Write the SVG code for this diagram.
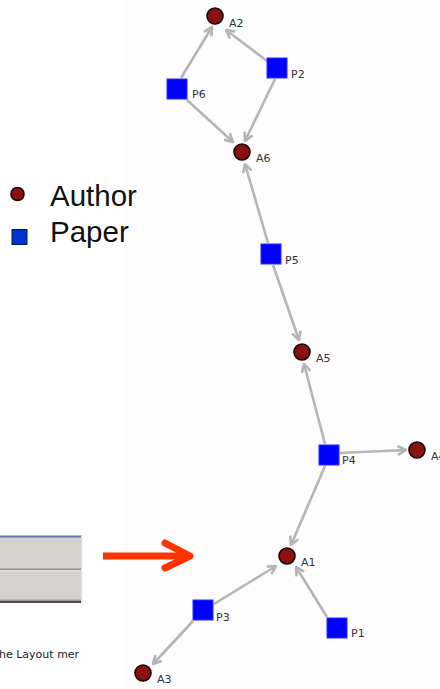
<svg xmlns="http://www.w3.org/2000/svg" width="440" height="689" viewBox="0 0 440 689">
<style>
.edge{stroke:#b5b5b5;stroke-width:2.6;fill:none;marker-end:url(#ah)}
.author{fill:#8b1111;stroke:#1a0000;stroke-width:1.6}
.paper{fill:#0000ff;stroke:#2a2aff;stroke-width:1}
.lbl{font-family:"DejaVu Sans",sans-serif;font-size:11px;fill:#333}
.leg{font-family:"Liberation Sans",Arial,sans-serif;font-size:29.5px;fill:#111}
</style>
<defs>
<marker id="ah" viewBox="0 0 10 10" refX="9" refY="5" markerWidth="11" markerHeight="11" markerUnits="userSpaceOnUse" orient="auto">
<path d="M1.5,1 L9,5 L1.5,9" fill="none" stroke="#b5b5b5" stroke-width="2.4" stroke-linejoin="miter"/>
</marker>
</defs>
<rect x="0" y="0" width="440" height="689" fill="#ffffff"/>
<rect x="122" y="0" width="318" height="689" fill="#fdfdfd"/>

<g id="legend">
<circle cx="17.5" cy="194" r="6.5" class="author"/>
<text x="50" y="206" class="leg">Author</text>
<rect x="12" y="229.5" width="15" height="15" fill="#0033cc" stroke="#001a66" stroke-width="1"/>
<text x="50" y="242" class="leg">Paper</text>
</g>

<g id="screenshot">
<rect x="-1" y="536" width="83" height="67" fill="#d5d2cc"/>
<rect x="-1" y="535.5" width="83" height="2" fill="#5b7cb6"/>
<rect x="-1" y="568.5" width="83" height="1.5" fill="#8c8c8c"/>
<rect x="-1" y="570" width="83" height="1" fill="#ebe9e5"/>
<rect x="-1" y="599.5" width="83" height="1.5" fill="#9a9a9a"/>
<rect x="-1" y="601" width="83" height="2" fill="#4a4a4a"/>
<rect x="81" y="536" width="1.5" height="67" fill="#e6e4e0"/>
<text x="-1" y="658" font-family="'DejaVu Sans',sans-serif" font-size="11px" fill="#222">he Layout mer</text>
</g>

<g id="red-arrow" stroke="#ff3300" stroke-width="7" fill="none" stroke-linecap="round" stroke-linejoin="round">
<line x1="103" y1="556" x2="188" y2="556" stroke-linecap="butt"/>
<polyline points="165,543 190,556 165,568"/>
</g>

<g id="connectors">
<line class="edge" x1="181" y1="78" x2="212" y2="27"/>
<line class="edge" x1="267" y1="61" x2="226" y2="30"/>
<line class="edge" x1="187" y1="100" x2="233" y2="142"/>
<line class="edge" x1="275" y1="79" x2="245" y2="141"/>
<line class="edge" x1="268" y1="243" x2="245" y2="164"/>
<line class="edge" x1="273" y1="265" x2="299" y2="340"/>
<line class="edge" x1="325" y1="444" x2="304" y2="364"/>
<line class="edge" x1="340" y1="453" x2="406" y2="450"/>
<line class="edge" x1="325" y1="466" x2="291" y2="545"/>
<line class="edge" x1="214" y1="604" x2="276" y2="566"/>
<line class="edge" x1="327" y1="617" x2="296" y2="567"/>
<line class="edge" x1="193" y1="621" x2="153" y2="664"/>
</g>

<g id="A2"><circle cx="215" cy="16" r="8" class="author"/><text x="229" y="27" class="lbl">A2</text></g>
<g id="P2"><rect x="267" y="58" width="20" height="20" class="paper"/><text x="291" y="78" class="lbl">P2</text></g>
<g id="P6"><rect x="167" y="79" width="20" height="20" class="paper"/><text x="192" y="98" class="lbl">P6</text></g>
<g id="A6"><circle cx="242" cy="152" r="8" class="author"/><text x="256" y="162" class="lbl">A6</text></g>
<g id="P5"><rect x="261" y="244" width="20" height="20" class="paper"/><text x="285" y="264" class="lbl">P5</text></g>
<g id="A5"><circle cx="302" cy="352" r="8" class="author"/><text x="316" y="362" class="lbl">A5</text></g>
<g id="P4"><rect x="319" y="445" width="20" height="20" class="paper"/><text x="342" y="464" class="lbl">P4</text></g>
<g id="A4"><circle cx="417" cy="450" r="8" class="author"/><text x="431" y="460" class="lbl">A4</text></g>
<g id="A1"><circle cx="287" cy="556" r="8" class="author"/><text x="301" y="566" class="lbl">A1</text></g>
<g id="P3"><rect x="193" y="600" width="20" height="20" class="paper"/><text x="216" y="621" class="lbl">P3</text></g>
<g id="P1"><rect x="327" y="618" width="20" height="20" class="paper"/><text x="351" y="637" class="lbl">P1</text></g>
<g id="A3"><circle cx="143" cy="673" r="8" class="author"/><text x="157" y="683" class="lbl">A3</text></g>
</svg>
